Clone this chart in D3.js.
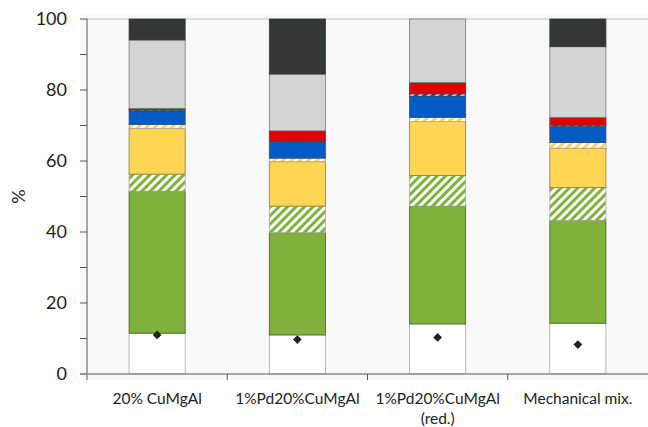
<!DOCTYPE html>
<html>
<head>
<meta charset="utf-8">
<script src="https://cdn.jsdelivr.net/npm/d3@7"></script>
<style>
  html, body { margin: 0; padding: 0; background: #ffffff; }
  svg { display: block; font-family: Lato, "Open Sans", sans-serif; }
</style>
</head>
<body>
<svg id="chart" width="648" height="427"></svg>
<script>
// Samples on the x axis
const categories = ["20% CuMgAl", "1%Pd20%CuMgAl", "1%Pd20%CuMgAl\n(red.)", "Mechanical mix."];

// Stacked composition (%), bottom to top
const seriesNames = ["base", "green", "greenHatched", "yellow", "yellowHatched",
                     "blue", "blueHatched", "red", "lightGrey", "dark"];
const base          = [11.5, 11.0, 14.1, 14.3];
const green         = [40.0, 28.8, 33.2, 29.0];
const greenHatched  = [ 4.8,  7.5,  8.6,  9.2];
const yellow        = [12.9, 12.5, 15.2, 11.1];
const yellowHatched = [ 1.1,  1.0,  1.2,  1.6];
const blue          = [ 3.8,  4.8,  6.0,  4.5];
const blueHatched   = [ 0.3,  0.0,  0.6,  0.4];
const red           = [ 0.4,  2.9,  3.2,  2.2];
const lightGrey     = [19.3, 16.0, 17.9, 19.9];
const dark          = [ 5.9, 15.5,  0.0,  7.8];

// Single marker value per sample
const markers = [11.0, 9.7, 10.3, 8.3];

const yTicks = [0, 20, 40, 60, 80, 100];
const yMinorTicks = [10, 30, 50, 70, 90];

const svg = d3.select("#chart");
const margin = { left: 87, right: 0, top: 19, bottom: 53 };
const W = 648, H = 427;

const x = d3.scaleBand()
  .domain(categories)
  .range([margin.left, W - margin.right])
  .paddingInner(0.6)
  .paddingOuter(0.3);

const y = d3.scaleLinear().domain([0, 100]).range([H - margin.bottom, margin.top]);

// hatch patterns
const defs = svg.append("defs");
function hatch(id, color) {
  const p = defs.append("pattern")
    .attr("id", id)
    .attr("patternUnits", "userSpaceOnUse")
    .attr("width", 6).attr("height", 6)
    .attr("patternTransform", "rotate(45)");
  p.append("rect").attr("width", 6).attr("height", 6).attr("fill", "#ffffff");
  p.append("rect").attr("width", 3).attr("height", 6).attr("fill", color);
}
hatch("hatch-green", "#80b13b");
hatch("hatch-yellow", "#ffd452");
hatch("hatch-blue", "#0a4f9e");

const fills = {
  base: "#ffffff",
  green: "#80b13b",
  greenHatched: "url(#hatch-green)",
  yellow: "#ffd652",
  yellowHatched: "url(#hatch-yellow)",
  blue: "#005bc4",
  blueHatched: "url(#hatch-blue)",
  red: "#e00000",
  lightGrey: "#d4d4d4",
  dark: "#323833"
};
const strokes = {
  base: "#a8a8a8",
  green: "#4a5a30",
  greenHatched: "#a8a8a8",
  yellow: "#8a7a4a",
  yellowHatched: "#a8a8a8",
  blue: "#3a4a6a",
  blueHatched: "#3a4a6a",
  red: "#6a3030",
  lightGrey: "#7a7a7a",
  dark: "#3a3a3a"
};

// plot background
svg.append("rect")
  .attr("x", 80).attr("y", 14)
  .attr("width", W - 80).attr("height", 366)
  .attr("fill", "#f9f9f9");

// line along the 100% level
svg.append("line")
  .attr("x1", margin.left).attr("x2", W)
  .attr("y1", y(100)).attr("y2", y(100))
  .attr("stroke", "#c4c4c4").attr("stroke-width", 1);

const rows = categories.map((c, i) => {
  const r = { category: c };
  r.base = base[i]; r.green = green[i]; r.greenHatched = greenHatched[i];
  r.yellow = yellow[i]; r.yellowHatched = yellowHatched[i];
  r.blue = blue[i]; r.blueHatched = blueHatched[i]; r.red = red[i];
  r.lightGrey = lightGrey[i]; r.dark = dark[i];
  return r;
});

const stacked = d3.stack().keys(seriesNames)(rows);

const layers = svg.append("g").selectAll("g")
  .data(stacked)
  .join("g")
  .attr("fill", d => fills[d.key])
  .attr("stroke", d => strokes[d.key])
  .attr("stroke-width", 0.8);

layers.selectAll("rect")
  .data(d => d.filter(s => s[1] - s[0] > 0))
  .join("rect")
  .attr("x", d => x(d.data.category))
  .attr("width", x.bandwidth())
  .attr("y", d => y(d[1]))
  .attr("height", d => y(d[0]) - y(d[1]));

// markers
svg.append("g").selectAll("path")
  .data(markers)
  .join("path")
  .attr("d", d3.symbol(d3.symbolSquare, 38))
  .attr("transform", (d, i) => `translate(${x(categories[i]) + x.bandwidth() / 2},${y(d)}) rotate(45)`)
  .attr("fill", "#231f20");

// y axis
const yAxisG = svg.append("g").attr("transform", `translate(${margin.left},0)`);
yAxisG.append("line")
  .attr("x1", 0).attr("x2", 0)
  .attr("y1", y(100)).attr("y2", y(0) + 6)
  .attr("stroke", "#555").attr("stroke-width", 1);
yAxisG.selectAll("line.tick")
  .data(yTicks.concat(yMinorTicks))
  .join("line")
  .attr("class", "tick")
  .attr("x1", -7).attr("x2", 0)
  .attr("y1", d => y(d)).attr("y2", d => y(d))
  .attr("stroke", "#555").attr("stroke-width", 1);
yAxisG.selectAll("text")
  .data(yTicks)
  .join("text")
  .attr("x", -20)
  .attr("y", d => y(d))
  .attr("dy", "0.35em")
  .attr("text-anchor", "end")
  .attr("font-size", 18)
  .attr("fill", "#222")
  .text(d => d);

svg.append("text")
  .attr("transform", `translate(25,${(y(0) + y(100)) / 2}) rotate(-90)`)
  .attr("text-anchor", "middle")
  .attr("font-size", 18)
  .attr("fill", "#222")
  .text("%");

// x axis
const xAxisG = svg.append("g");
xAxisG.append("line")
  .attr("x1", margin.left - 7).attr("x2", W)
  .attr("y1", y(0)).attr("y2", y(0))
  .attr("stroke", "#8a8a8a").attr("stroke-width", 1.5);
const step = x.step();
const boundaries = categories.slice(1).map(c => x(c) - step * x.paddingInner() / 2);
xAxisG.selectAll("line.tick")
  .data(boundaries)
  .join("line")
  .attr("class", "tick")
  .attr("x1", d => d).attr("x2", d => d)
  .attr("y1", y(0)).attr("y2", y(0) + 6)
  .attr("stroke", "#555").attr("stroke-width", 1);

const labels = xAxisG.selectAll("text")
  .data(categories)
  .join("text")
  .attr("x", d => x(d) + x.bandwidth() / 2)
  .attr("y", y(0) + 30)
  .attr("text-anchor", "middle")
  .attr("font-size", 15.5)
  .attr("fill", "#222");
labels.selectAll("tspan")
  .data(d => d.split("\n").map((t, j) => ({ t, j, cx: x(d) + x.bandwidth() / 2 })))
  .join("tspan")
  .attr("x", d => d.cx)
  .attr("dy", d => d.j === 0 ? 0 : 20)
  .text(d => d.t);
</script>
</body>
</html>
